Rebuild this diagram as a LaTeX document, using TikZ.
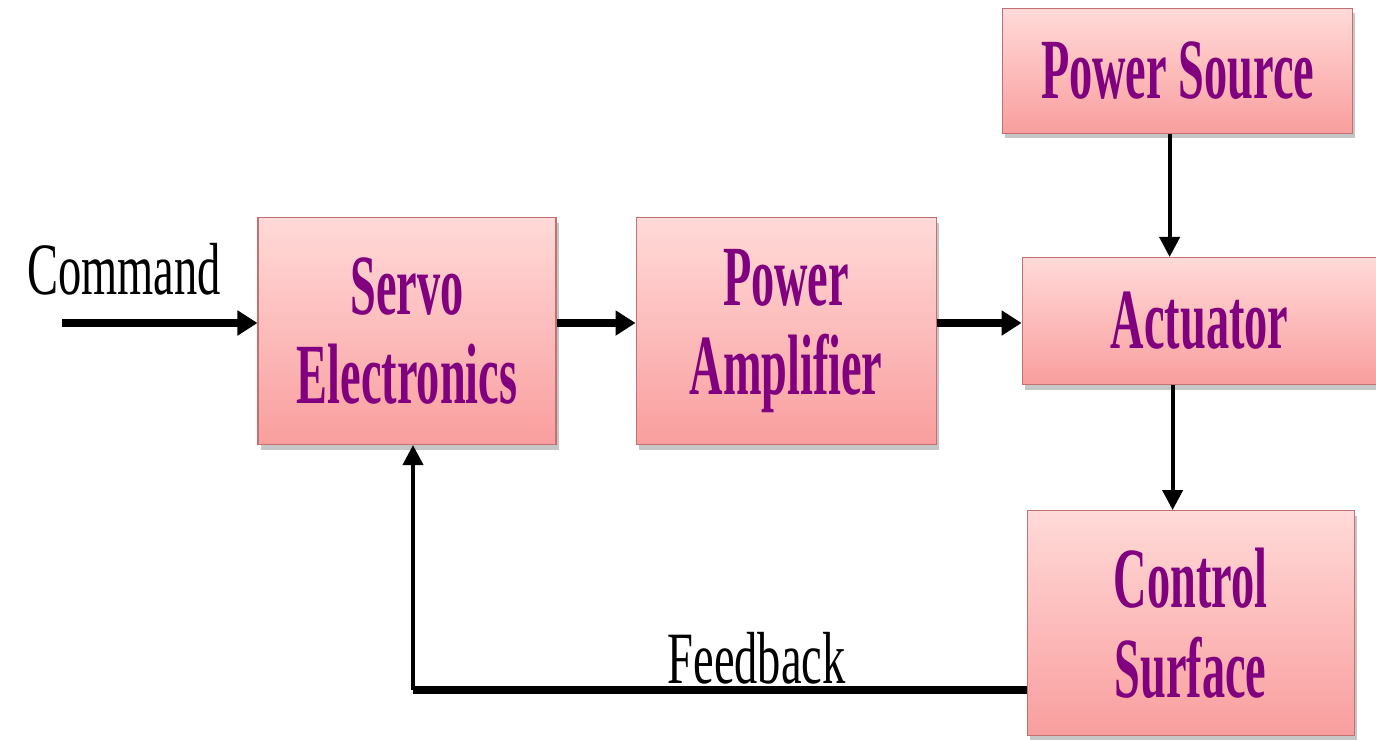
\documentclass[tikz,border=0pt]{standalone}
\usepackage{fontspec}
\newfontfamily\boxfont[FakeStretch=0.54]{Liberation Serif}
\newfontfamily\lblfont[FakeStretch=0.63]{Liberation Serif}
\usetikzlibrary{arrows.meta, positioning, shadows}

\definecolor{boxtop}{RGB}{255,218,216}
\definecolor{boxbot}{RGB}{249,158,158}
\definecolor{boxline}{RGB}{196,112,112}
\definecolor{txtpurple}{RGB}{128,0,128}

\begin{document}
\begin{tikzpicture}[
    box/.style   = {rectangle, draw=boxline, line width=0.6pt,
                    top color=boxtop, bottom color=boxbot,
                    drop shadow={shadow xshift=0.05cm, shadow yshift=-0.1cm,
                                 fill=gray, opacity=0.45},
                    align=center, inner sep=0pt, text=txtpurple,
                    font=\boxfont\bfseries\fontsize{48.8}{51}\selectfont},
    lbl/.style   = {font=\lblfont\fontsize{42}{44}\selectfont, inner sep=1pt},
    harr/.style  = {-{Triangle[length=0.4cm, width=0.48cm]}, line width=0.16cm},
    varr/.style  = {-{Triangle[length=0.4cm, width=0.4cm]}, line width=0.08cm},
    thickline/.style = {line width=0.16cm}
  ]
  \useasboundingbox (0,0) rectangle (27.52,-14.78);

  % nodes
  \node[box, minimum width=5.96cm, minimum height=4.54cm] (servo) at (8.14,-6.62)
       {Servo\\Electronics};
  \node[box, minimum width=6.0cm, minimum height=4.54cm] (amp) [right=1.58cm of servo]
       {Power\\Amplifier};
  \node[box, minimum width=7.1cm, minimum height=2.54cm] (act) [right=1.7cm of amp, yshift=0.2cm]
       {Actuator};
  \node[box, minimum width=7.0cm, minimum height=2.5cm] (ps) [above=2.46cm of act, xshift=-0.44cm]
       {Power Source};
  \node[box, minimum width=6.54cm, minimum height=4.5cm] (cs) [below=2.5cm of act, xshift=-0.18cm]
       {Control\\Surface};

  \coordinate (cmd) at (1.24,-6.46);
  \coordinate (fbturn) at (8.26,-13.8);
  \node[lbl] (cmdlbl) at (2.48,-5.38) {Command};

  % edges
  \draw[harr] (cmd) -- (cmd -| servo.west);
  \draw[harr] ([yshift=0.16cm]servo.east) -- ([yshift=0.16cm]servo.east -| amp.west);
  \draw[harr] ([yshift=0.16cm]amp.east) -- ([yshift=0.16cm]amp.east -| act.west);
  \draw[varr] ([xshift=-0.16cm]ps.south) -- ([xshift=-0.16cm]ps.south |- act.north);
  \draw[varr] ([xshift=-0.54cm]act.south) -- ([xshift=-0.54cm]act.south |- cs.north);
  \draw[thickline] (cs.west |- fbturn) -- node[lbl, above, pos=0.44] (fblbl) {Feedback} (fbturn);
  \draw[varr] (fbturn) -- (fbturn |- servo.south);

\end{tikzpicture}
\end{document}
